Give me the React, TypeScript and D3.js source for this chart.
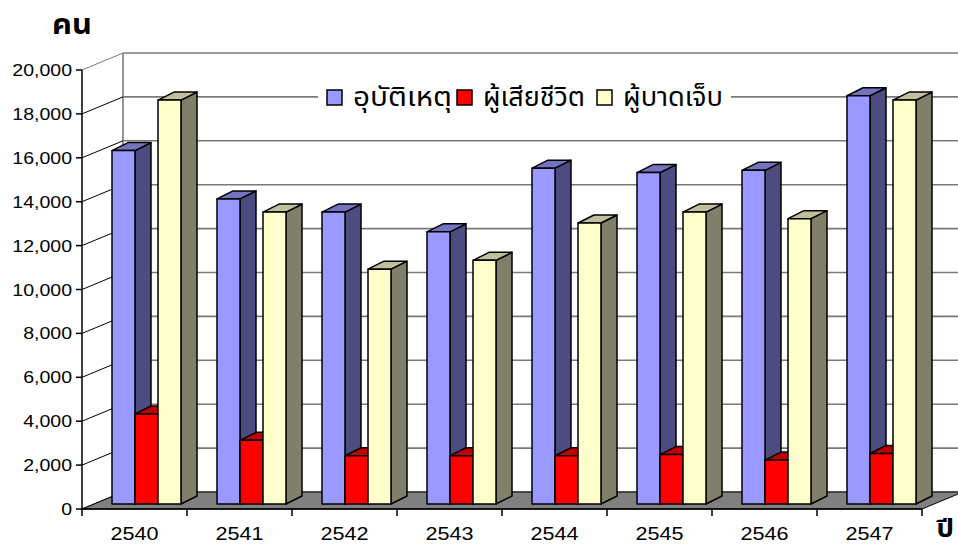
import * as d3 from 'd3';

const years = ['2540', '2541', '2542', '2543', '2544', '2545', '2546', '2547'];
const seriesNames = ['อุบัติเหตุ', 'ผู้เสียชีวิต', 'ผู้บาดเจ็บ'];
const accidents = [16100, 13900, 13300, 12400, 15300, 15100, 15200, 18600];
const deaths = [4100, 2900, 2200, 2200, 2200, 2250, 2000, 2300];
const injured = [18400, 13300, 10700, 11100, 12800, 13300, 13000, 18400];
const yTicks = d3.range(0, 20001, 2000);

// front, side, top colours per series
const palette = [
  { front: '#9999ff', side: '#4c4c80', top: '#7373c0' },
  { front: '#ff0000', side: '#800000', top: '#c00000' },
  { front: '#ffffcc', side: '#80806a', top: '#c0c09a' },
];

const W = 958;
const H = 545;
const left = 82;
const right = 922;
const DX = 41; // depth of the walls
const DY = -17;
const BX = 12; // front face of bars behind front plane
const BY = -5;
const bdx = 16; // bar depth
const bdy = -8;

export default function App() {
  const values = [accidents, deaths, injured];
  const y = d3.scaleLinear().domain([0, 20000]).range([509, 70]);
  const x0 = d3.scaleBand<string>().domain(years).range([left, right]);
  const groupW = 69;
  const xs = d3.scaleBand<string>().domain(seriesNames).range([0, groupW]);
  const off = (x0.bandwidth() - groupW) / 2;
  const fmt = d3.format(',');
  const y0 = y(0);

  const poly = (pts: number[][]) => pts.map(p => p.join(',')).join(' ');

  const bars: JSX.Element[] = [];
  years.forEach((yr, i) => {
    seriesNames.forEach((s, k) => {
      const v = values[k][i];
      const xl = (x0(yr) as number) + off + (xs(s) as number) + BX;
      const xr = xl + xs.bandwidth();
      const yt = y(v) + BY;
      const yb = y0 + BY;
      const c = palette[k];
      bars.push(
        <g key={`${yr}-${k}`} stroke="#000" strokeWidth={1.5} strokeLinejoin="round">
          <polygon points={poly([[xr, yb], [xr + bdx, yb + bdy], [xr + bdx, yt + bdy], [xr, yt]])} fill={c.side} />
          <polygon points={poly([[xl, yt], [xl + bdx, yt + bdy], [xr + bdx, yt + bdy], [xr, yt]])} fill={c.top} />
          <rect x={xl} y={yt} width={xr - xl} height={yb - yt} fill={c.front} />
        </g>
      );
    });
  });

  const legendX = [327, 457, 597];
  const legendTX = [353, 483, 623];
  const legendW = [99, 102, 100];
  const thai = "Tahoma, 'Noto Sans Thai', 'Noto Sans', 'DejaVu Sans', sans-serif";

  return (
    <svg width={W} height={H} style={{ position: 'absolute', left: 0, top: 0 }} fontFamily="'Liberation Sans', Arial, sans-serif">
      <rect width={W} height={H} fill="#fff" />
      {/* back wall grid */}
      {yTicks.map(t => (
        <line key={`g${t}`} x1={left + DX} x2={right + DX} y1={y(t) + DY} y2={y(t) + DY} stroke="#7a7a7a" strokeWidth={1.6} />
      ))}
      <line x1={left + DX} x2={left + DX} y1={y(0) + DY} y2={y(20000) + DY} stroke="#7a7a7a" strokeWidth={1.6} />
      {/* side wall grid */}
      {yTicks.map(t => (
        <line key={`s${t}`} x1={left} x2={left + DX} y1={y(t)} y2={y(t) + DY} stroke={t === 20000 ? '#7a7a7a' : '#000'} strokeWidth={1} />
      ))}
      {/* floor */}
      <polygon points={poly([[left, y0], [right, y0], [right + DX, y0 + DY], [left + DX, y0 + DY]])} fill="#808080" stroke="#000" strokeWidth={1} />
      {/* axes */}
      <line x1={left} x2={left} y1={y(20000)} y2={y0} stroke="#000" strokeWidth={1.5} />
      <line x1={left} x2={right} y1={y0} y2={y0} stroke="#000" strokeWidth={1.5} />
      {yTicks.map(t => (
        <g key={`yt${t}`}>
          <line x1={left - 6} x2={left} y1={y(t)} y2={y(t)} stroke="#000" strokeWidth={1.5} />
          <text transform={`translate(${left - 10},${y(t) + 6}) scale(1.15,1)`} textAnchor="end" fontSize={17}>{fmt(t)}</text>
        </g>
      ))}
      {years.concat(['']).map((yr, i) => {
        const xv = left + i * x0.bandwidth();
        return <line key={`xt${i}`} x1={xv} x2={xv} y1={y0} y2={y0 + 7} stroke="#000" strokeWidth={1.5} />;
      })}
      {years.map(yr => (
        <text key={`xl${yr}`} transform={`translate(${(x0(yr) as number) + x0.bandwidth() / 2},${540}) scale(1.2,1)`} textAnchor="middle" fontSize={18}>{yr}</text>
      ))}
      {bars}
      {/* legend */}
      <rect x={318} y={80} width={413} height={34} fill="#fff" />
      {seriesNames.map((s, k) => (
        <g key={`lg${k}`}>
          <rect x={legendX[k]} y={90} width={15} height={15} fill={palette[k].front} stroke="#000" strokeWidth={1.5} />
          <text x={legendTX[k]} y={106} fontSize={26} fontFamily={thai} textLength={legendW[k]} lengthAdjust="spacingAndGlyphs">{s}</text>
        </g>
      ))}
      <text transform="translate(52,34) scale(1.1,1)" fontSize={28} fontWeight="bold" fontFamily={thai}>คน</text>
      <text transform="translate(954,537) scale(1.15,1)" textAnchor="end" fontSize={24} fontWeight="bold" fontFamily={thai}>ปี</text>
    </svg>
  );
}
